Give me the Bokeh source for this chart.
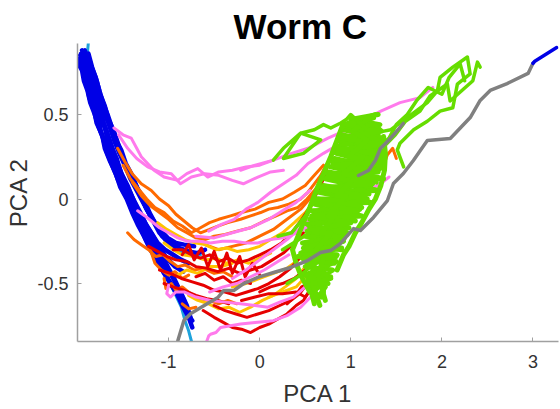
from bokeh.plotting import figure
from bokeh.embed import file_html
from bokeh.resources import INLINE
from bokeh.models import FixedTicker

TITLE = "Worm C"
X_LABEL = "PCA 1"
Y_LABEL = "PCA 2"
X_TICKS = [-1, 0, 1, 2, 3]
Y_TICKS = [-0.5, 0, 0.5]
X_TICK_LABELS = {-1: "-1", 0: "0", 1: "1", 2: "2", 3: "3"}
Y_TICK_LABELS = {-0.5: "-0.5", 0: "0", 0.5: "0.5"}

CYAN = [
    [(-1.88, 0.93), (-1.89, 0.87), (-1.86, 0.80), (-1.83, 0.72), (-1.80, 0.63), (-1.76, 0.55)],
    [(-1.00, -0.48), (-0.93, -0.56), (-0.86, -0.64), (-0.82, -0.72), (-0.78, -0.78), (-0.75, -0.84)],
    [(-0.95, -0.30), (-0.80, -0.32), (-0.65, -0.33)],
]

BLUE = [
    [(-1.99, 0.80), (-1.95, 0.76), (-1.93, 0.70), (-1.89, 0.64), (-1.86, 0.57), (-1.81, 0.50), (-1.77, 0.43),
     (-1.72, 0.36), (-1.68, 0.28), (-1.62, 0.20), (-1.56, 0.12), (-1.50, 0.05), (-1.43, -0.02), (-1.37, -0.10),
     (-1.31, -0.17), (-1.25, -0.24), (-1.18, -0.31), (-1.10, -0.39), (-1.02, -0.46), (-0.94, -0.53),
     (-0.87, -0.60), (-0.80, -0.67), (-0.74, -0.72)],
    [(-1.96, 0.86), (-1.92, 0.80), (-1.88, 0.73), (-1.85, 0.66), (-1.80, 0.58), (-1.76, 0.50), (-1.70, 0.42),
     (-1.66, 0.33), (-1.60, 0.26), (-1.55, 0.18), (-1.49, 0.10), (-1.42, 0.03), (-1.36, -0.05), (-1.29, -0.12),
     (-1.22, -0.20), (-1.15, -0.27), (-1.08, -0.33), (-1.00, -0.41), (-0.93, -0.48), (-0.86, -0.56),
     (-0.80, -0.63), (-0.76, -0.70)],
    [(-1.92, 0.88), (-1.87, 0.81), (-1.84, 0.74), (-1.79, 0.66), (-1.75, 0.58), (-1.70, 0.50), (-1.64, 0.43),
     (-1.60, 0.35), (-1.54, 0.27), (-1.48, 0.20), (-1.42, 0.12), (-1.35, 0.05), (-1.28, -0.02), (-1.21, -0.09),
     (-1.14, -0.15), (-1.06, -0.21), (-0.98, -0.26), (-0.88, -0.29), (-0.78, -0.31), (-0.68, -0.32), (-0.60, -0.30)],
    [(-1.98, 0.83), (-1.94, 0.77), (-1.90, 0.68), (-1.87, 0.60), (-1.82, 0.53), (-1.79, 0.45), (-1.73, 0.38),
     (-1.70, 0.30), (-1.64, 0.22), (-1.58, 0.15), (-1.53, 0.07), (-1.46, 0.00), (-1.40, -0.08), (-1.34, -0.15),
     (-1.27, -0.22), (-1.20, -0.30), (-1.13, -0.36), (-1.05, -0.44), (-0.98, -0.50), (-0.90, -0.57),
     (-0.84, -0.64), (-0.78, -0.70), (-0.74, -0.76)],
    [(-1.94, 0.83), (-1.90, 0.76), (-1.86, 0.70), (-1.82, 0.62), (-1.78, 0.55), (-1.73, 0.47), (-1.68, 0.40),
     (-1.63, 0.31), (-1.57, 0.24), (-1.52, 0.15), (-1.45, 0.08), (-1.39, 0.00), (-1.33, -0.07), (-1.26, -0.14),
     (-1.19, -0.20), (-1.12, -0.26), (-1.04, -0.30), (-0.95, -0.33), (-0.86, -0.36), (-0.78, -0.38)],
    [(-1.90, 0.84), (-1.86, 0.78), (-1.83, 0.71), (-1.78, 0.64), (-1.74, 0.56), (-1.68, 0.48), (-1.63, 0.40),
     (-1.57, 0.33), (-1.51, 0.25), (-1.45, 0.17), (-1.38, 0.10), (-1.31, 0.03), (-1.25, -0.05), (-1.18, -0.12),
     (-1.10, -0.18), (-1.01, -0.23), (-0.92, -0.26), (-0.83, -0.27), (-0.72, -0.28)],
    [(-1.97, 0.85), (-1.93, 0.79), (-1.90, 0.71), (-1.86, 0.63), (-1.83, 0.55), (-1.77, 0.48), (-1.74, 0.39),
     (-1.68, 0.32), (-1.63, 0.24), (-1.57, 0.16), (-1.51, 0.09), (-1.44, 0.01), (-1.38, -0.06), (-1.32, -0.13),
     (-1.25, -0.20), (-1.18, -0.27), (-1.12, -0.33), (-1.05, -0.39), (-0.97, -0.45), (-0.90, -0.52), (-0.83, -0.60)],
    [(-1.95, 0.88), (-1.91, 0.82), (-1.87, 0.75), (-1.84, 0.68), (-1.79, 0.60), (-1.75, 0.52), (-1.71, 0.45),
     (-1.66, 0.37), (-1.61, 0.29), (-1.56, 0.21), (-1.50, 0.13), (-1.44, 0.06), (-1.37, -0.02), (-1.31, -0.08),
     (-1.24, -0.16), (-1.17, -0.22), (-1.10, -0.29), (-1.02, -0.35), (-0.93, -0.40), (-0.84, -0.43)],
    [(-1.88, 0.86), (-1.84, 0.78), (-1.79, 0.70), (-1.75, 0.62), (-1.70, 0.55), (-1.66, 0.47), (-1.60, 0.40),
     (-1.55, 0.32), (-1.50, 0.24), (-1.44, 0.16), (-1.37, 0.09), (-1.30, 0.01), (-1.24, -0.06), (-1.17, -0.13),
     (-1.10, -0.20), (-1.02, -0.25), (-0.94, -0.29)],
    [(-1.86, 0.80), (-1.80, 0.72), (-1.76, 0.64), (-1.72, 0.57), (-1.67, 0.50), (-1.62, 0.42), (-1.58, 0.35),
     (-1.52, 0.29), (-1.47, 0.21), (-1.40, 0.14), (-1.34, 0.06), (-1.27, 0.00), (-1.21, -0.08), (-1.14, -0.15),
     (-1.07, -0.22)],
]

ORANGE = [
    [(-1.56, 0.30), (-1.48, 0.22), (-1.40, 0.15), (-1.30, 0.09), (-1.19, 0.05), (-1.10, 0.00), (-1.00, -0.04),
     (-0.92, -0.09), (-0.83, -0.13), (-0.74, -0.17), (-0.65, -0.20), (-0.55, -0.18), (-0.46, -0.16),
     (-0.35, -0.14), (-0.21, -0.12), (-0.10, -0.10), (0.01, -0.08), (0.10, -0.06), (0.20, -0.05),
     (0.32, -0.03), (0.45, 0.00), (0.53, 0.04), (0.60, 0.09), (0.67, 0.14), (0.72, 0.19), (0.76, 0.23)],
    [(-1.40, 0.10), (-1.30, 0.02), (-1.20, -0.04), (-1.10, -0.08), (-1.00, -0.12), (-0.90, -0.17), (-0.80, -0.20),
     (-0.70, -0.23), (-0.60, -0.24), (-0.50, -0.22), (-0.38, -0.21), (-0.25, -0.19), (-0.10, -0.17),
     (0.05, -0.13), (0.18, -0.10), (0.30, -0.07), (0.42, -0.05), (0.52, 0.00), (0.60, 0.05), (0.68, 0.10),
     (0.74, 0.16)],
    [(-1.50, 0.20), (-1.42, 0.12), (-1.33, 0.06), (-1.24, 0.00), (-1.15, -0.05), (-1.05, -0.08), (-0.95, -0.13),
     (-0.85, -0.16), (-0.75, -0.20), (-0.65, -0.17), (-0.55, -0.14), (-0.45, -0.12), (-0.32, -0.10),
     (-0.20, -0.08), (-0.05, -0.06), (0.10, -0.02), (0.25, 0.00), (0.38, 0.04), (0.50, 0.08), (0.60, 0.14),
     (0.70, 0.20)],
    [(-1.45, -0.20), (-1.38, -0.24), (-1.30, -0.27), (-1.22, -0.30), (-1.14, -0.34), (-1.06, -0.33),
     (-0.98, -0.37), (-0.90, -0.40), (-0.82, -0.39), (-0.72, -0.42), (-0.62, -0.41), (-0.50, -0.44),
     (-0.40, -0.43), (-0.30, -0.46)],
    [(-1.20, -0.30), (-1.15, -0.38), (-1.08, -0.42), (-1.00, -0.45), (-0.93, -0.43), (-0.85, -0.47), (-0.78, -0.45)],
    [(-1.05, -0.47), (-1.03, -0.53), (-0.97, -0.50), (-0.92, -0.54), (-0.85, -0.52), (-0.76, -0.56),
     (-0.66, -0.59), (-0.56, -0.60), (-0.45, -0.62), (-0.35, -0.60), (-0.25, -0.62)],
    [(-0.85, -0.62), (-0.78, -0.65), (-0.70, -0.64)],
    [(1.35, 0.18), (1.40, 0.26), (1.46, 0.30), (1.50, 0.24)],
    [(-0.60, -0.27), (-0.45, -0.30), (-0.30, -0.28), (-0.15, -0.26), (0.00, -0.22), (0.15, -0.18),
     (0.30, -0.12), (0.45, -0.06), (0.58, 0.02), (0.68, 0.10)],
]

YELLOW = [
    [(-1.12, -0.14), (-1.02, -0.18), (-0.92, -0.21), (-0.82, -0.24), (-0.70, -0.26), (-0.60, -0.27),
     (-0.48, -0.30), (-0.36, -0.29), (-0.25, -0.31), (-0.12, -0.30), (0.00, -0.28), (0.12, -0.24),
     (0.25, -0.20), (0.38, -0.14), (0.50, -0.08), (0.60, -0.02)],
    [(-1.05, -0.26), (-0.95, -0.30), (-0.85, -0.33), (-0.72, -0.34), (-0.60, -0.36), (-0.48, -0.35),
     (-0.36, -0.38), (-0.24, -0.36), (-0.12, -0.38), (0.00, -0.35), (0.12, -0.32)],
    [(-0.78, -0.57), (-0.68, -0.60), (-0.56, -0.62), (-0.45, -0.65), (-0.34, -0.64), (-0.22, -0.67),
     (-0.10, -0.64), (0.03, -0.60), (0.15, -0.57), (0.28, -0.52), (0.40, -0.47), (0.50, -0.40)],
    [(-0.30, -0.52), (-0.15, -0.50), (0.00, -0.47), (0.15, -0.44), (0.30, -0.41), (0.45, -0.35), (0.58, -0.28)],
    [(0.10, -0.58), (0.25, -0.55), (0.40, -0.52), (0.52, -0.45)],
    [(-0.90, -0.45), (-0.80, -0.42), (-0.68, -0.44), (-0.55, -0.40), (-0.42, -0.40), (-0.30, -0.38)],
]

RED = [
    [(-1.22, -0.28), (-1.12, -0.31), (-1.02, -0.34), (-0.92, -0.36), (-0.80, -0.37), (-0.70, -0.40),
     (-0.58, -0.41), (-0.46, -0.43), (-0.34, -0.41), (-0.22, -0.44), (-0.10, -0.42), (0.02, -0.40),
     (0.14, -0.36), (0.26, -0.32), (0.38, -0.26), (0.48, -0.20)],
    [(-0.95, -0.30), (-0.85, -0.30), (-0.75, -0.33), (-0.65, -0.35), (-0.55, -0.33), (-0.45, -0.37),
     (-0.35, -0.35), (-0.25, -0.38), (-0.12, -0.36), (0.00, -0.33), (0.12, -0.30), (0.24, -0.26),
     (0.35, -0.20), (0.45, -0.13), (0.55, -0.05), (0.63, 0.04), (0.70, 0.12), (0.76, 0.22)],
    [(-1.10, -0.42), (-0.98, -0.44), (-0.86, -0.47), (-0.74, -0.49), (-0.62, -0.51), (-0.50, -0.54),
     (-0.38, -0.55), (-0.26, -0.57), (-0.14, -0.55), (-0.02, -0.53), (0.10, -0.50), (0.22, -0.46),
     (0.34, -0.41), (0.45, -0.34)],
    [(-0.62, -0.66), (-0.50, -0.70), (-0.40, -0.73), (-0.30, -0.76), (-0.20, -0.77), (-0.10, -0.79),
     (0.00, -0.76), (0.10, -0.74), (0.20, -0.71), (0.30, -0.68), (0.40, -0.63), (0.48, -0.60),
     (0.55, -0.54), (0.60, -0.48)],
    [(-0.50, -0.63), (-0.38, -0.66), (-0.26, -0.68), (-0.14, -0.70), (-0.02, -0.68), (0.10, -0.66),
     (0.22, -0.63), (0.34, -0.60), (0.44, -0.56), (0.52, -0.50), (0.58, -0.44)],
    [(-0.85, -0.33), (-0.78, -0.27), (-0.72, -0.36), (-0.64, -0.29), (-0.57, -0.40), (-0.50, -0.31),
     (-0.43, -0.42), (-0.36, -0.32), (-0.30, -0.44), (-0.22, -0.34), (-0.16, -0.46), (-0.08, -0.38), (0.00, -0.45)],
    [(-1.05, -0.50), (-0.95, -0.52), (-0.83, -0.54), (-0.70, -0.57), (-0.58, -0.59), (-0.46, -0.60), (-0.34, -0.62)],
    [(0.30, -0.62), (0.38, -0.58), (0.46, -0.52), (0.54, -0.50), (0.60, -0.42)],
    [(-0.70, -0.46), (-0.60, -0.44), (-0.50, -0.48), (-0.40, -0.46), (-0.30, -0.50), (-0.20, -0.48), (-0.10, -0.50)],
    [(0.00, -0.55), (0.12, -0.52), (0.25, -0.50), (0.38, -0.47), (0.50, -0.42), (0.60, -0.36)],
    [(-0.20, -0.60), (-0.05, -0.58), (0.10, -0.56), (0.25, -0.56), (0.40, -0.55), (0.50, -0.58), (0.58, -0.52)],
]

PINK = [
    [(-1.60, 0.42), (-1.50, 0.38), (-1.41, 0.36), (-1.35, 0.30), (-1.30, 0.25), (-1.23, 0.21), (-1.16, 0.17),
     (-1.05, 0.13), (-0.90, 0.11), (-0.80, 0.15), (-0.68, 0.18), (-0.57, 0.13), (-0.45, 0.16), (-0.30, 0.17),
     (-0.15, 0.19), (0.00, 0.20), (0.15, 0.23)],
    [(-1.55, 0.38), (-1.45, 0.30), (-1.35, 0.24), (-1.23, 0.19), (-1.10, 0.16), (-0.97, 0.15), (-0.87, 0.09),
     (-0.75, 0.13), (-0.60, 0.15), (-0.45, 0.14), (-0.30, 0.11), (-0.18, 0.09), (-0.02, 0.13), (0.12, 0.16),
     (0.26, 0.17)],
    [(-0.56, -0.19), (-0.42, -0.15), (-0.28, -0.12), (-0.15, -0.06), (-0.02, -0.02), (0.12, 0.04), (0.26, 0.09),
     (0.40, 0.14), (0.53, 0.21), (0.70, 0.27), (0.89, 0.33), (1.07, 0.42), (1.20, 0.48)],
    [(-0.21, 0.17), (-0.05, 0.20), (0.15, 0.23), (0.35, 0.27), (0.53, 0.30), (0.75, 0.36), (1.00, 0.42),
     (1.15, 0.47), (1.33, 0.52), (1.54, 0.57), (1.76, 0.60), (1.90, 0.66)],
    [(-1.34, -0.07), (-1.26, -0.10), (-1.19, -0.13), (-1.10, -0.17), (-1.00, -0.20), (-0.90, -0.23),
     (-0.79, -0.25), (-0.66, -0.25), (-0.54, -0.26), (-0.41, -0.25), (-0.28, -0.25), (-0.15, -0.26),
     (-0.02, -0.26), (0.12, -0.24), (0.26, -0.23), (0.36, -0.21), (0.45, -0.19), (0.60, -0.14), (0.75, -0.10)],
    [(-1.00, -0.51), (-1.02, -0.56), (-0.98, -0.58), (-0.92, -0.55), (-0.83, -0.55), (-0.70, -0.58),
     (-0.54, -0.60), (-0.38, -0.61), (-0.21, -0.62), (-0.05, -0.63), (0.09, -0.64), (0.22, -0.61),
     (0.37, -0.58), (0.50, -0.52), (0.60, -0.45)],
    [(-0.58, -0.84), (-0.56, -0.81), (-0.54, -0.80), (-0.48, -0.79), (-0.43, -0.76), (-0.32, -0.75),
     (-0.21, -0.74), (-0.05, -0.73), (0.15, -0.72), (0.30, -0.69), (0.45, -0.64), (0.56, -0.58)],
    [(-0.30, -0.47), (-0.15, -0.42), (0.00, -0.36), (0.15, -0.30), (0.30, -0.24), (0.45, -0.17), (0.60, -0.10),
     (0.75, -0.05), (0.90, 0.00)],
    [(-0.55, -0.55), (-0.40, -0.52), (-0.25, -0.50), (-0.10, -0.46), (0.05, -0.42), (0.20, -0.37), (0.32, -0.33)],
    [(0.90, -0.12), (1.05, -0.02), (1.20, 0.05), (1.35, 0.10), (1.42, 0.13)],
    [(-0.70, -0.22), (-0.50, -0.23), (-0.30, -0.20), (-0.10, -0.17), (0.10, -0.12), (0.25, -0.07), (0.40, -0.02),
     (0.55, 0.05)],
]

GREEN_CLOUD = [
    [(0.62, -0.60), (0.72, -0.52), (0.55, -0.50), (0.80, -0.42), (0.50, -0.40), (0.85, -0.33), (0.45, -0.32),
     (0.92, -0.25), (0.50, -0.22), (0.98, -0.17), (0.55, -0.12), (1.12, -0.10), (0.60, -0.03), (1.22, -0.02),
     (0.65, 0.04), (1.30, 0.05), (0.72, 0.12), (1.36, 0.12), (0.78, 0.19), (1.36, 0.20), (0.84, 0.27),
     (1.37, 0.28), (0.88, 0.34), (1.35, 0.36), (0.92, 0.41), (1.32, 0.44), (1.00, 0.47), (1.30, 0.50)],
    [(1.25, 0.48), (0.95, 0.43), (1.30, 0.38), (0.86, 0.31), (1.34, 0.24), (0.80, 0.22), (1.30, 0.16),
     (0.74, 0.15), (1.22, 0.08), (0.68, 0.07), (1.18, 0.00), (0.62, 0.00), (1.10, -0.06), (0.57, -0.07),
     (1.02, -0.13), (0.52, -0.15), (0.96, -0.21), (0.47, -0.26), (0.90, -0.29), (0.42, -0.34), (0.84, -0.37),
     (0.50, -0.45), (0.78, -0.46), (0.58, -0.55), (0.68, -0.58)],
    [(0.65, -0.48), (0.75, -0.38), (0.60, -0.35), (0.80, -0.26), (0.62, -0.25), (0.88, -0.15), (0.70, -0.14),
     (0.95, -0.05), (0.75, -0.06), (1.05, 0.04), (0.82, 0.03), (1.12, 0.12), (0.88, 0.10), (1.18, 0.20),
     (0.95, 0.18), (1.22, 0.30), (1.00, 0.28), (1.20, 0.40), (1.05, 0.36), (1.15, 0.46)],
    [(0.70, -0.55), (0.68, -0.42), (0.72, -0.30), (0.70, -0.20), (0.85, -0.22), (0.80, -0.10), (0.90, 0.00),
     (0.88, 0.10), (1.00, 0.12), (0.98, 0.22), (1.08, 0.26), (1.05, 0.35), (1.15, 0.38), (1.10, 0.47)],
    [(0.60, -0.62), (0.52, -0.45), (0.75, -0.50), (0.47, -0.35), (0.82, -0.38), (0.50, -0.27), (0.90, -0.30),
     (0.55, -0.17), (0.96, -0.20), (0.60, -0.08), (1.05, -0.13), (0.64, 0.00), (1.12, -0.05), (0.70, 0.08),
     (1.20, 0.03), (0.76, 0.16), (1.28, 0.10), (0.82, 0.24), (1.32, 0.18), (0.86, 0.30), (1.36, 0.26),
     (0.90, 0.38), (1.35, 0.33), (0.97, 0.45), (1.30, 0.42)],
    [(0.66, -0.63), (0.58, -0.50), (0.78, -0.47), (0.52, -0.37), (0.84, -0.34), (0.48, -0.29), (0.93, -0.23),
     (0.52, -0.19), (1.00, -0.14), (0.57, -0.10), (1.08, -0.07), (0.62, -0.02), (1.16, 0.02), (0.68, 0.06),
     (1.24, 0.09), (0.74, 0.13), (1.30, 0.17), (0.80, 0.20), (1.34, 0.22), (0.83, 0.29), (1.36, 0.32),
     (0.90, 0.36), (1.33, 0.40), (0.95, 0.44), (1.27, 0.50)],
    [(0.72, -0.60), (0.64, -0.45), (0.70, -0.35), (0.62, -0.30), (0.78, -0.20), (0.68, -0.20), (0.85, -0.08),
     (0.75, -0.10), (0.95, 0.02), (0.85, 0.02), (1.05, 0.13), (0.92, 0.15), (1.12, 0.24), (0.98, 0.25),
     (1.18, 0.35), (1.02, 0.40), (1.20, 0.48)],
    [(0.85, -0.42), (0.92, -0.33), (0.98, -0.28), (1.05, -0.20), (1.12, -0.14), (1.20, -0.06), (1.27, 0.00),
     (1.33, 0.08), (1.37, 0.17), (1.38, 0.27), (1.36, 0.37)],
    [(0.55, -0.55), (0.45, -0.45), (0.40, -0.38), (0.36, -0.30), (0.42, -0.22), (0.48, -0.14), (0.55, -0.05),
     (0.62, 0.05), (0.70, 0.15), (0.78, 0.25), (0.85, 0.35), (0.92, 0.45)],
]

GREEN_PATHS = [
    [(0.25, -0.30), (0.40, -0.25), (0.55, -0.20)],
    [(0.30, -0.50), (0.45, -0.45), (0.60, -0.38)],
    [(0.20, -0.22), (0.35, -0.20), (0.50, -0.10)],
    [(0.15, 0.23), (0.26, 0.30), (0.45, 0.39), (0.67, 0.35), (0.48, 0.27), (0.26, 0.24), (0.45, 0.39),
     (0.60, 0.41), (0.70, 0.44), (0.78, 0.42), (0.89, 0.45), (0.95, 0.47), (1.00, 0.50), (1.08, 0.46),
     (1.15, 0.42), (1.25, 0.45), (1.35, 0.40), (1.44, 0.41), (1.54, 0.45), (1.69, 0.51), (1.84, 0.57),
     (1.95, 0.64), (1.98, 0.72), (2.12, 0.78), (2.28, 0.84), (2.31, 0.74), (2.17, 0.68), (2.12, 0.54),
     (1.98, 0.52), (1.84, 0.46), (1.69, 0.41), (1.54, 0.33), (1.51, 0.29), (1.58, 0.19)],
    [(1.38, 0.32), (1.49, 0.38), (1.60, 0.46), (1.76, 0.52), (1.87, 0.61), (2.06, 0.68), (2.09, 0.58),
     (2.34, 0.70), (2.39, 0.81), (2.42, 0.78)],
    [(1.30, 0.30), (1.42, 0.36), (1.50, 0.44), (1.62, 0.50), (1.72, 0.58), (1.85, 0.66), (2.00, 0.62),
     (2.08, 0.72), (2.20, 0.80), (2.25, 0.70)],
]

GRAY = [
    [(-0.898, -0.837), (-0.865, -0.778), (-0.832, -0.719), (-0.756, -0.678), (-0.646, -0.642), (-0.46, -0.583),
     (-0.394, -0.541), (-0.285, -0.541), (-0.175, -0.50), (-0.022, -0.464), (0.153, -0.435), (0.34, -0.405),
     (0.526, -0.364), (0.668, -0.317), (0.778, -0.305), (0.887, -0.263), (1.03, -0.175), (1.106, -0.186),
     (1.249, -0.109), (1.402, -0.009), (1.468, 0.092), (1.577, 0.151), (1.687, 0.228), (1.763, 0.287),
     (1.84, 0.346), (2.092, 0.358), (2.311, 0.482), (2.42, 0.583), (2.53, 0.642), (2.716, 0.683),
     (2.946, 0.743), (3.0, 0.803)],
    [(1.084, 0.139), (1.194, 0.169), (1.27, 0.228), (1.325, 0.299), (1.413, 0.346), (1.49, 0.393), (1.577, 0.447)],
]

BLUE_TAIL = [
    [(3.0, 0.803), (3.02, 0.815), (3.26, 0.896)],
]

COLOURS = {
    "cyan": "#1ea3dc",
    "blue": "#0000e6",
    "orange": "#ff6a00",
    "yellow": "#ffc200",
    "red": "#e60000",
    "pink": "#ff7aec",
    "green": "#66dd00",
    "gray": "#808080",
}


def split(trajs):
    return [[a for a, b in t] for t in trajs], [[b for a, b in t] for t in trajs]


p = figure(width=560, height=409, x_range=(-2.0, 3.28), y_range=(-0.843, 0.92),
           output_backend="svg", toolbar_location=None,
           min_border_left=77, min_border_right=2, min_border_top=43, min_border_bottom=68,
           title=TITLE)
p.grid.visible = False
p.outline_line_color = None
p.background_fill_color = "white"
p.border_fill_color = "white"

p.title.text_font = "Liberation Sans"
p.title.text_font_size = "35px"
p.title.text_font_style = "bold"
p.title.text_color = "black"
p.title.align = "left"
p.title.offset = 156
p.title.standoff = -5

layers = [
    (CYAN, "cyan", 3),
    (BLUE, "blue", 4.5),
    (ORANGE, "orange", 3),
    (YELLOW, "yellow", 3),
    (RED, "red", 3),
    (PINK, "pink", 3),
    (GREEN_CLOUD, "green", 5),
    (GREEN_PATHS, "green", 3.5),
    (GRAY, "gray", 3.5),
    (BLUE_TAIL, "blue", 3.5),
]
for data, col, w in layers:
    xs, ys = split(data)
    p.multi_line(xs, ys, line_color=COLOURS[col], line_width=w,
                 line_join="round", line_cap="round")

for ax, ticks, labels, lab in ((p.xaxis, X_TICKS, X_TICK_LABELS, X_LABEL),
                               (p.yaxis, Y_TICKS, Y_TICK_LABELS, Y_LABEL)):
    ax.ticker = FixedTicker(ticks=ticks)
    ax.major_label_overrides = labels
    ax.axis_label = lab
    ax.axis_line_color = "#a0a0a0"
    ax.axis_line_width = 1.5
    ax.major_tick_line_color = "#a0a0a0"
    ax.major_tick_in = 4
    ax.major_tick_out = 0
    ax.minor_tick_line_color = None
    ax.major_label_text_font = "Liberation Sans"
    ax.major_label_text_font_size = "18px"
    ax.major_label_text_color = "#333333"
    ax.axis_label_text_font = "Liberation Sans"
    ax.axis_label_text_font_size = "24px"
    ax.axis_label_text_font_style = "normal"
    ax.axis_label_text_color = "#333333"

p.xaxis.major_label_standoff = 13
p.xaxis.axis_label_standoff = 9
p.yaxis.major_label_standoff = 9
p.yaxis.axis_label_standoff = 2

open("out.html", "w").write(file_html(p, INLINE))
